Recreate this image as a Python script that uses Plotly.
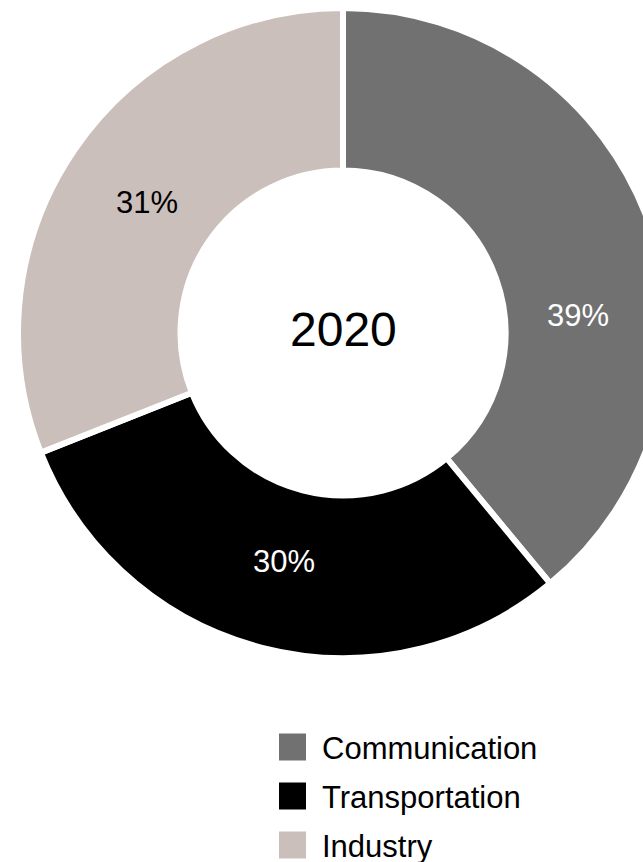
import math
import plotly.graph_objects as go

# Share of demand by sector, 2020
categories = ["Communication", "Transportation", "Industry"]
shares = [39, 30, 31]
year_label = "2020"

# Styling
slice_colors = ["#717171", "#000000", "#CBBFBB"]
label_colors = ["white", "white", "black"]
label_angle_nudge = [15.5, 0.0, -0.5]   # degrees, keeps labels clear of the slice edges
FONT = "Liberation Sans, Arial, sans-serif"

# Canvas geometry (pixels)
W, H = 686, 862
CX, CY = 343, 333          # donut centre
R = 325                    # outer radius incl. separator stroke
HOLE = 0.5
GAP = 6                    # white separator between slices
LABEL_R = 236


def px(x):
    return x / W


def py(y):
    return 1 - y / H


fig = go.Figure(
    go.Pie(
        labels=categories,
        values=shares,
        sort=False,
        direction="clockwise",
        rotation=0,
        hole=HOLE,
        marker=dict(colors=slice_colors, line=dict(color="white", width=GAP)),
        textinfo="none",
        hoverinfo="label+percent",
        showlegend=False,
        domain=dict(x=[px(CX - R), px(CX + R)], y=[py(CY + R), py(CY - R)]),
    )
)

annotations = []

# Percentage labels placed around the ring
total = sum(shares)
start = 0.0
for value, color, nudge in zip(shares, label_colors, label_angle_nudge):
    mid = (start + value / 2) / total * 360 + nudge
    start += value
    a = math.radians(mid)
    lx = CX + LABEL_R * math.sin(a)
    ly = CY - LABEL_R * math.cos(a)
    annotations.append(dict(
        x=px(lx), y=py(ly), xref="paper", yref="paper",
        text=f"{round(value / total * 100)}%", showarrow=False,
        xanchor="center", yanchor="middle",
        font=dict(family=FONT, size=31, color=color),
    ))

# Year in the hole
annotations.append(dict(
    x=px(CX), y=py(CY - 4), xref="paper", yref="paper",
    text=year_label, showarrow=False, xanchor="center", yanchor="middle",
    font=dict(family=FONT, size=48, color="black"),
))

# Legend: square swatches with category names
shapes = []
SW = 27
LX0 = 279
LY0 = 747
LSTEP = 49
for i, (name, color) in enumerate(zip(categories, slice_colors)):
    yc = LY0 + i * LSTEP
    shapes.append(dict(
        type="rect", xref="paper", yref="paper",
        x0=px(LX0), x1=px(LX0 + SW), y0=py(yc + SW / 2), y1=py(yc - SW / 2),
        fillcolor=color, line=dict(width=0),
    ))
    annotations.append(dict(
        x=px(320), y=py(yc + 1), xref="paper", yref="paper",
        text=name, showarrow=False, xanchor="left", yanchor="middle",
        font=dict(family=FONT, size=31, color="black"),
    ))

fig.update_layout(
    width=W, height=H,
    margin=dict(l=0, r=0, t=0, b=0),
    paper_bgcolor="white", plot_bgcolor="white",
    annotations=annotations,
    shapes=shapes,
    showlegend=False,
)

fig.write_html(
    "out.html",
    post_script="document.documentElement.style.overflow='hidden';document.body.style.overflow='hidden';",
)
